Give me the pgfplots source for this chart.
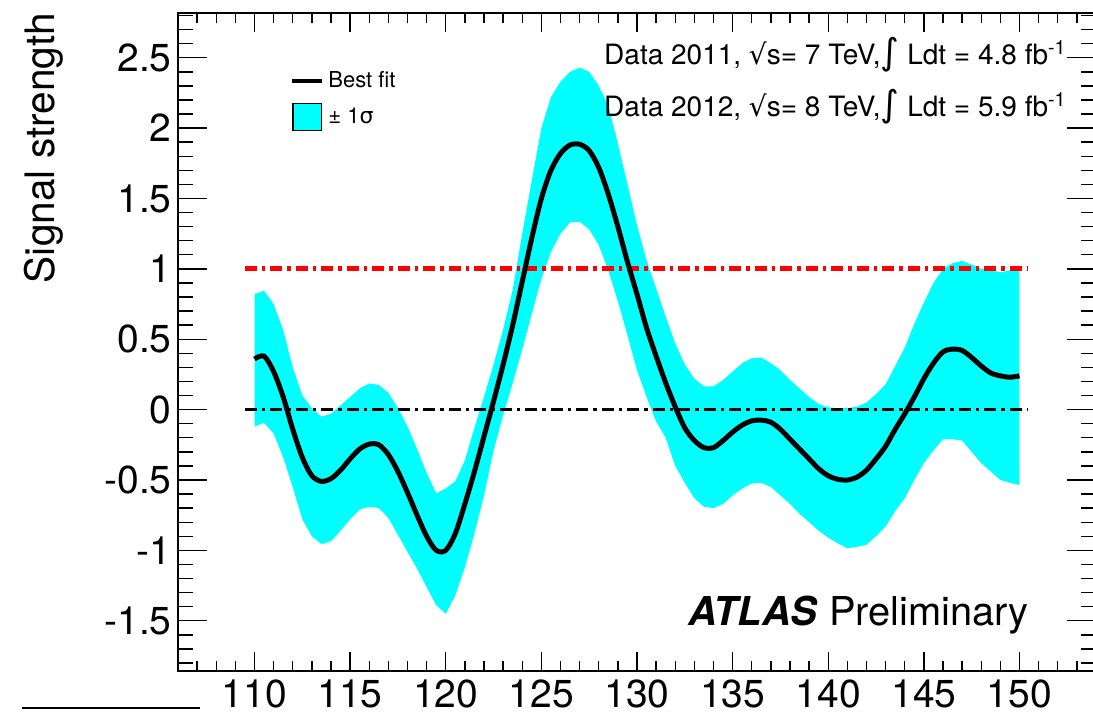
\documentclass[border=0pt]{standalone}
\usepackage{pgfplots}
\pgfplotsset{compat=1.18}
\usepackage{pgfplotstable}
\usepgfplotslibrary{fillbetween}
\usepackage{fontspec}
\setmainfont{TeX Gyre Heros}
\newfontfamily\symfont{DejaVu Sans}
\definecolor{bandcyan}{RGB}{0,255,255}

% best-fit signal strength versus mass
\pgfplotstableread{
x mu
110 0.36
110.5 0.38
111 0.27
111.5 0.09
112 -0.14
112.5 -0.34
113 -0.47
113.5 -0.51
114 -0.49
114.5 -0.43
115 -0.35
115.5 -0.28
116 -0.245
116.5 -0.25
117 -0.32
117.5 -0.44
118 -0.59
118.5 -0.75
119 -0.90
119.5 -1.00
120 -1.00
120.5 -0.88
121 -0.67
121.5 -0.44
122 -0.19
122.5 0.06
123 0.32
123.5 0.60
124 0.91
124.5 1.22
125 1.50
125.5 1.70
126 1.82
126.5 1.88
127 1.885
127.5 1.84
128 1.72
128.5 1.53
129 1.30
129.5 1.05
130 0.82
130.5 0.58
131 0.38
131.5 0.19
132 0.02
132.5 -0.13
133 -0.22
133.5 -0.27
134 -0.27
134.5 -0.22
135 -0.16
135.5 -0.11
136 -0.08
136.5 -0.075
137 -0.09
137.5 -0.14
138 -0.21
138.5 -0.28
139 -0.35
139.5 -0.42
140 -0.47
140.5 -0.495
141 -0.50
141.5 -0.48
142 -0.43
142.5 -0.35
143 -0.26
143.5 -0.14
144 -0.03
144.5 0.09
145 0.22
145.5 0.33
146 0.41
146.5 0.43
147 0.42
147.5 0.37
148 0.31
148.5 0.26
149 0.24
149.5 0.23
150 0.24
}\bestfit

% one-sigma band: lower and upper edge
\pgfplotstableread{
x lo hi
110 -0.12 0.82
110.5 -0.094 0.845
111 -0.17 0.75
111.5 -0.34 0.565
112 -0.55 0.30
112.5 -0.78 0.10
113 -0.90 0.01
113.5 -0.955 -0.05
114 -0.935 -0.03
114.5 -0.86 0.03
115 -0.78 0.09
115.5 -0.71 0.15
116 -0.69 0.186
116.5 -0.70 0.175
117 -0.77 0.12
117.5 -0.89 0.01
118 -1.01 -0.12
118.5 -1.13 -0.28
119 -1.26 -0.45
119.5 -1.39 -0.595
120 -1.45 -0.56
120.5 -1.32 -0.51
121 -1.12 -0.36
121.5 -0.88 -0.13
122 -0.61 0.09
122.5 -0.29 0.32
123 -0.04 0.57
123.5 0.19 0.85
124 0.43 1.25
124.5 0.68 1.63
125 0.93 2.0
125.5 1.12 2.22
126 1.25 2.33
126.5 1.33 2.40
127 1.335 2.43
127.5 1.28 2.40
128 1.17 2.30
128.5 0.99 2.16
129 0.77 1.89
129.5 0.53 1.60
130 0.28 1.31
130.5 0.09 1.06
131 -0.085 0.86
131.5 -0.20 0.66
132 -0.40 0.47
132.5 -0.52 0.32
133 -0.63 0.22
133.5 -0.69 0.165
134 -0.70 0.165
134.5 -0.67 0.21
135 -0.61 0.27
135.5 -0.56 0.33
136 -0.525 0.365
136.5 -0.52 0.37
137 -0.55 0.33
137.5 -0.61 0.28
138 -0.67 0.21
138.5 -0.74 0.15
139 -0.80 0.09
139.5 -0.86 0.04
140 -0.91 0.016
140.5 -0.95 0.01
141 -0.985 0.01
141.5 -0.975 0.02
142 -0.96 0.05
142.5 -0.90 0.11
143 -0.83 0.18
143.5 -0.72 0.31
144 -0.63 0.44
144.5 -0.50 0.61
145 -0.38 0.76
145.5 -0.29 0.90
146 -0.21 1.00
146.5 -0.21 1.04
147 -0.22 1.057
147.5 -0.30 1.03
148 -0.38 1.00
148.5 -0.44 0.99
149 -0.50 0.975
149.5 -0.52 0.99
150 -0.536 1.015
}\band

\begin{document}
\begin{tikzpicture}
\begin{axis}[
  at={(89pt,21.65pt)}, anchor=south west,
  scale only axis, width=459pt, height=329pt,
  xmin=106, xmax=154, ymin=-1.855, ymax=2.82,
  axis line style={line width=1pt},
  tick align=inside,
  xtick={110,115,...,150},
  minor xtick={107,108,...,153},
  ytick={-1.5,-1,-0.5,0,0.5,1,1.5,2,2.5},
  minor ytick={-1.8,-1.7,-1.6,-1.4,-1.3,-1.2,-1.1,-0.9,-0.8,-0.7,-0.6,-0.4,-0.3,-0.2,-0.1,
               0.1,0.2,0.3,0.4,0.6,0.7,0.8,0.9,1.1,1.2,1.3,1.4,1.6,1.7,1.8,1.9,
               2.1,2.2,2.3,2.4,2.6,2.7,2.8},
  xtick style={/pgfplots/major tick length=9.5pt, /pgfplots/minor tick length=5pt, line width=0.7pt, black},
  ytick style={/pgfplots/major tick length=14.5pt, /pgfplots/minor tick length=7.5pt, line width=0.7pt, black},
  ticklabel style={font=\fontsize{19.5}{22}\selectfont},
  /pgf/number format/assume math mode=true,
  xticklabel style={inner ysep=0pt, yshift=-4.5pt},
  yticklabel style={inner xsep=0pt, xshift=-3pt},
  ylabel={Signal strength},
  every axis y label/.style={at={(rel axis cs:0,1)}, xshift=-67pt, rotate=90, anchor=east,
    inner sep=0pt, font=\fontsize{20.3}{23}\selectfont},
  legend style={draw=none, fill=none, at={(0.122,0.917)}, anchor=north west, inner sep=0pt,
    font=\fontsize{11}{13}\selectfont, row sep=4pt,
    /tikz/every even column/.append style={column sep=0pt}},
  legend cell align=left,
]
\addplot[name path=hi, draw=none, forget plot] table[x=x, y=hi]{\band};
\addplot[name path=lo, draw=none, forget plot] table[x=x, y=lo]{\band};
\addplot[bandcyan, forget plot] fill between[of=hi and lo];

\addplot[red, line width=2.4pt, dash pattern=on 6pt off 2.5pt on 1.75pt off 2.5pt, forget plot]
  coordinates {(109.5,1) (150.4,1)};
\addplot[black, line width=1.8pt, dash pattern=on 6pt off 2.5pt on 1.75pt off 2.5pt, forget plot]
  coordinates {(109.5,0) (150.4,0)};

\addplot[black, line width=2.5pt, smooth, forget plot] table[x=x, y=mu]{\bestfit};

\addlegendimage{legend image code/.code={\draw[black, line width=2pt] (0pt,0pt) -- (15pt,0pt);}}
\addlegendentry{Best fit}
\addlegendimage{legend image code/.code={\draw[black, line width=0.6pt, fill=bandcyan] (0.3pt,-6.8pt) rectangle (14.7pt,6.8pt);}}
\addlegendentry{± 1{\symfont σ}}
\end{axis}

\node[anchor=base east, inner sep=0pt, font=\fontsize{14}{16}\selectfont] at (533.5pt,324.5pt)
  {Data 2011, {\symfont √}s= 7 TeV,{\symfont\fontsize{18}{18}\selectfont ∫} Ldt = 4.8 fb\textsuperscript{-1}};
\node[anchor=base east, inner sep=0pt, font=\fontsize{14}{16}\selectfont] at (533.5pt,298.65pt)
  {Data 2012, {\symfont √}s= 8 TeV,{\symfont\fontsize{18}{18}\selectfont ∫} Ldt = 5.9 fb\textsuperscript{-1}};
\node[anchor=base west, inner sep=0pt, font=\fontsize{19.9}{23}\selectfont] at (344pt,44.5pt)
  {\textbf{\textit{ATLAS}} Preliminary};
\draw[line width=0.6pt] (11pt,3pt) -- (100pt,3pt);
% page size: the right frame edge falls just outside
\pgfresetboundingbox
\useasboundingbox (0,0) rectangle (546.5pt,357pt);
\end{tikzpicture}
\end{document}
